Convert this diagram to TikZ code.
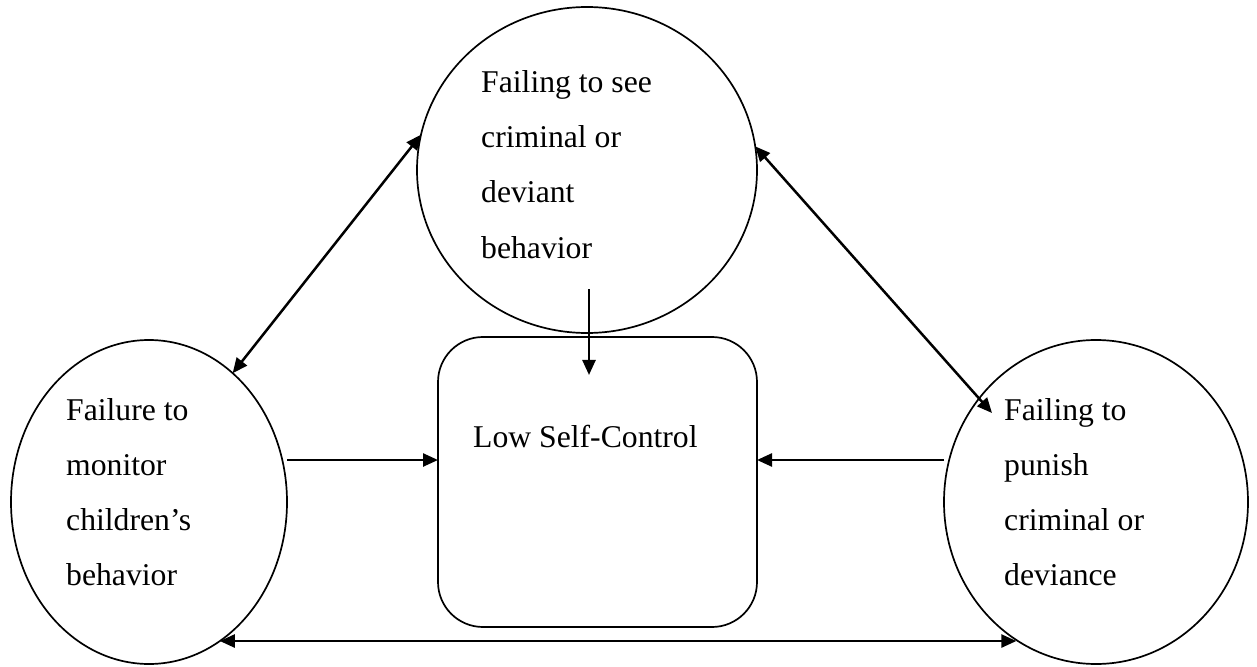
\documentclass[tikz,border=0pt]{standalone}
\usepackage{fontspec}
\setmainfont{Liberation Serif}
\usetikzlibrary{arrows.meta,shapes.geometric,calc}

\tikzset{
  bubble/.style={ellipse, draw, line width=1.7bp, inner sep=0pt, outer sep=0pt},
  corebox/.style={rectangle, draw, line width=1.7bp, rounded corners=45bp, inner sep=0pt, outer sep=0pt},
  label/.style={anchor=base west, inner sep=0pt, font=\fontsize{31.8}{40}\selectfont},
  arr/.style={line width=2.5bp, -{Triangle[length=15bp,width=13bp]}},
  biarr/.style={line width=2.5bp, {Triangle[length=15bp,width=13bp]}-{Triangle[length=15bp,width=13bp]}}
}

\begin{document}
\begin{tikzpicture}[x=1bp, y=-1bp]
  \useasboundingbox (0,0) rectangle (1257,667);

  % the four factors
  \node[bubble, minimum width=340bp, minimum height=326bp] (top) at (587,170) {};
  \node[bubble, minimum width=276bp, minimum height=324bp] (left) at (149,502) {};
  \node[bubble, minimum width=304bp, minimum height=324bp] (right) at (1096,502) {};
  \node[corebox, minimum width=319bp, minimum height=290bp] (lsc) at (597.5,482) {};

  % texts, one line per node
  \foreach \t [count=\i from 0] in {Failing to see, criminal or, deviant, behavior}
    \node[label] (topt\i) at (481,93+55*\i) {\t};
  \foreach \t [count=\i from 0] in {Failure to, monitor, children’s, behavior}
    \node[label] (leftt\i) at (66,420+55*\i) {\t};
  \foreach \t [count=\i from 0] in {Failing to, punish, criminal or, deviance}
    \node[label] (rightt\i) at (1004,420+55*\i) {\t};
  \node[label] (lsct) at (473,447) {Low Self-Control};

  % connectors
  \draw[biarr] (top.168) -- (left.57);
  \draw[biarr] (top.8) -- ($(right.center)+(-104,-89)$);
  \draw[arr] ($(top.center)+(2,119)$) -- ($(lsc.north)+(-8.5,38)$);
  \draw[arr] (left.east |- 0,460) -- (lsc.west |- 0,460);
  \draw[arr] (right.west |- 0,460) -- (lsc.east |- 0,460);
  \draw[biarr] (left.-63.8) -- (right.240 |- left.-63.8);
\end{tikzpicture}
\end{document}
